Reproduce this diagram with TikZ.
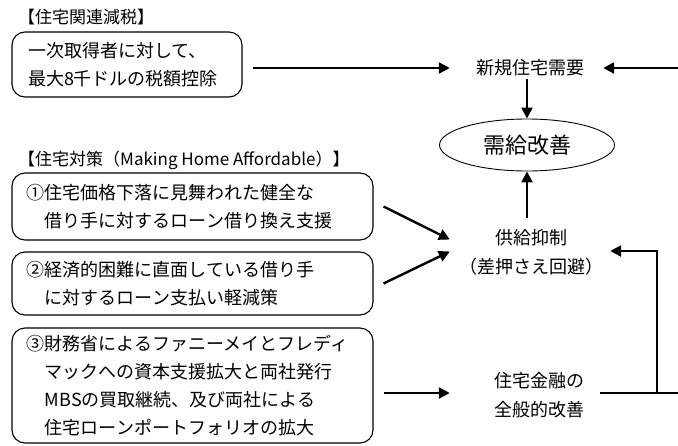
\documentclass[tikz,border=0pt]{standalone}
\usepackage{fontspec}
\setmainfont{Noto Sans CJK JP}
\usetikzlibrary{arrows.meta,shapes.geometric}
\begin{document}
\begin{tikzpicture}[x=1pt,y=-1pt,
  box/.style={draw,line width=1.1pt,rounded corners=13pt,align=left,inner ysep=0pt,font=\fontsize{18}{28}\selectfont},
  lbl/.style={inner sep=2pt,font=\fontsize{18}{29}\selectfont,align=center},
  ttl/.style={anchor=west,inner sep=0pt,font=\fontsize{17}{20}\selectfont},
  arr/.style={line width=2.4pt,-{Triangle[length=11pt,width=11pt]}},
  ln/.style={line width=2.4pt}]
\useasboundingbox (0,0) rectangle (678,445);
\fill[white] (0,0) rectangle (678,445);
% titles
\node[ttl] (t1) at (18,17) {【住宅関連減税】};
\node[ttl] (t2) at (18,160) {【住宅対策（Making Home Affordable）】};
% boxes
\node[box,minimum width=230pt,minimum height=65pt,text width=198pt,inner xsep=16pt] (b1) at (127,64.5) {一次取得者に対して、\\最大8千ドルの税額控除};
\node[box,minimum width=361pt,minimum height=67pt,text width=331pt,inner xsep=15pt] (b2) at (192.5,206.5) {①住宅価格下落に見舞われた健全な\\\phantom{①}借り手に対するローン借り換え支援};
\node[box,minimum width=361pt,minimum height=63pt,text width=331pt,inner xsep=15pt] (b3) at (192.5,283.5) {②経済的困難に直面している借り手\\\phantom{①}に対するローン支払い軽減策};
\node[box,minimum width=361pt,minimum height=115pt,text width=331pt,inner xsep=15pt] (b4) at (192.5,385.5) {③財務省によるファニーメイとフレディ\\\phantom{①}マックへの資本支援拡大と両社発行\\\phantom{①}MBSの買取継続、及び両社による\\\phantom{①}住宅ローンポートフォリオの拡大};
% right side labels
\node[lbl] (new) at (530,68) {新規住宅需要};
\node[draw,ellipse,line width=0.9pt,minimum width=175pt,minimum height=52pt,inner sep=0pt,font=\fontsize{22}{26}\selectfont] (ell) at (527,145) {需給改善};
\node[lbl] (sup) at (531,252.5) {供給抑制\\（差押さえ回避）};
\node[lbl] (fin) at (539,395) {住宅金融の\\全般的改善};
% coordinates
\coordinate (rtop) at (678,68);
\coordinate (redge) at (678,393);
\coordinate (br) at (657,393);
\coordinate (tipA) at ([xshift=-7pt,yshift=13pt]sup.west);
\coordinate (tipB) at ([xshift=-7pt,yshift=1pt]sup.west);
\coordinate (fintip) at ([xshift=-42pt,yshift=2pt]fin.west);
% connectors
\draw[arr] ([xshift=10pt]b1.east |- new.west) -- ([xshift=-24pt]new.west);
\draw[arr] (rtop) -- ([xshift=17pt]new.east);
\draw[arr] (new.south -| ell.north) -- (ell.north);
\draw[arr] ([yshift=9pt]sup.north -| ell.south) -- (ell.south);
\draw[arr] ([xshift=10pt]b2.east) -- (tipA);
\draw[arr] ([xshift=10pt]b3.east) -- (tipB);
\draw[arr] ([xshift=10pt]b4.east |- fintip) -- (fintip);
\draw[ln] ([xshift=14pt,yshift=2pt]fin.east) -- (redge);
\draw[arr] (br) |- ([xshift=5pt,yshift=1.5pt]sup.east);
\end{tikzpicture}
\end{document}
